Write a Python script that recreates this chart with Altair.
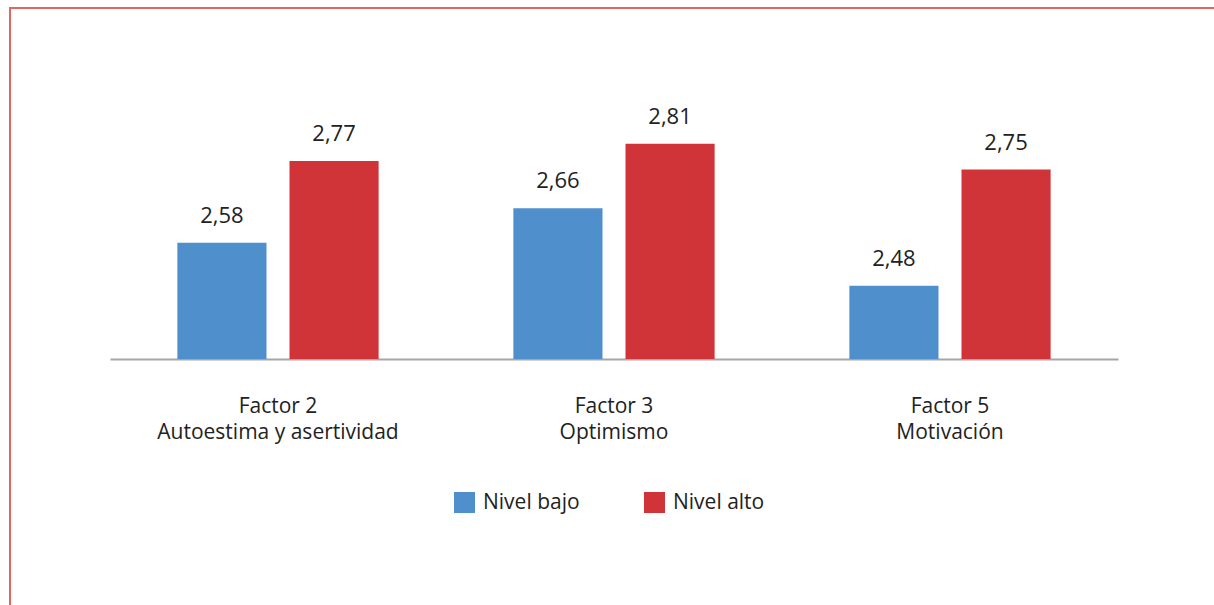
import altair as alt
import pandas as pd

factors = ["Factor 2\nAutoestima y asertividad", "Factor 3\nOptimismo", "Factor 5\nMotivación"]
levels = ["Nivel bajo", "Nivel alto"]
bajo = [2.58, 2.66, 2.48]
alto = [2.77, 2.81, 2.75]

rows = []
for f, b, a in zip(factors, bajo, alto):
    rows.append({"factor": f, "nivel": "Nivel bajo", "valor": b})
    rows.append({"factor": f, "nivel": "Nivel alto", "valor": a})
df = pd.DataFrame(rows)

FONT = "Open Sans"
W, H = 1008, 297

x = alt.X("factor:N", sort=factors, title=None,
          scale=alt.Scale(paddingInner=0.401, paddingOuter=0.2005),
          axis=alt.Axis(labelExpr="split(datum.label, '\\n')", labelAngle=0, ticks=False,
                        labelPadding=36, labelFontSize=21, labelFont=FONT, labelColor="#222222",
                        labelLineHeight=26, domainColor="#A6A6A6", domainWidth=2, labelBaseline="top",
                        labelLimit=0))
xo = alt.XOffset("nivel:N", sort=levels, scale=alt.Scale(paddingInner=0.205, paddingOuter=0))
y = alt.Y("valor:Q", scale=alt.Scale(domain=[2.31, 3.0], zero=False, nice=False), axis=None)

color = alt.Color("nivel:N", sort=levels,
                  scale=alt.Scale(domain=levels, range=["#4F8FCC", "#D03438"]),
                  legend=alt.Legend(title=None, orient="none", legendX=344, legendY=430,
                                    direction="horizontal", symbolType="square", symbolSize=441,
                                    symbolStrokeWidth=0, symbolOpacity=1, labelFont=FONT,
                                    labelFontSize=21, labelColor="#222222", columnPadding=64,
                                    labelOffset=8, labelLimit=0))

base = alt.Chart(df)
bars = base.mark_bar(clip=True).encode(x=x, xOffset=xo, y=y, y2=alt.datum(2.31), color=color)
labels = base.transform_calculate(
    lab="replace(format(datum.valor, '.2f'), '.', ',')"
).mark_text(font=FONT, fontSize=22, color="#222222", baseline="alphabetic", dy=-20).encode(
    x=x, xOffset=xo, y=y, text="lab:N")

frame_top = alt.Chart(pd.DataFrame({"a": [0]})).mark_rule(color="#E06666", strokeWidth=2).encode(
    x=alt.value(-101), x2=alt.value(1104), y=alt.value(-54))
frame_left = alt.Chart(pd.DataFrame({"a": [0]})).mark_rule(color="#E06666", strokeWidth=2).encode(
    x=alt.value(-100), y=alt.value(-55), y2=alt.value(543))

chart = alt.layer(bars, labels, frame_top, frame_left).properties(
    width=W, height=H,
    padding={"left": 110, "top": 62, "right": 96, "bottom": 246},
    autosize=alt.AutoSizeParams(type="none"),
    background="white",
).configure_view(stroke=None)

chart.save("out.html", embed_options={"renderer": "svg", "actions": False})
